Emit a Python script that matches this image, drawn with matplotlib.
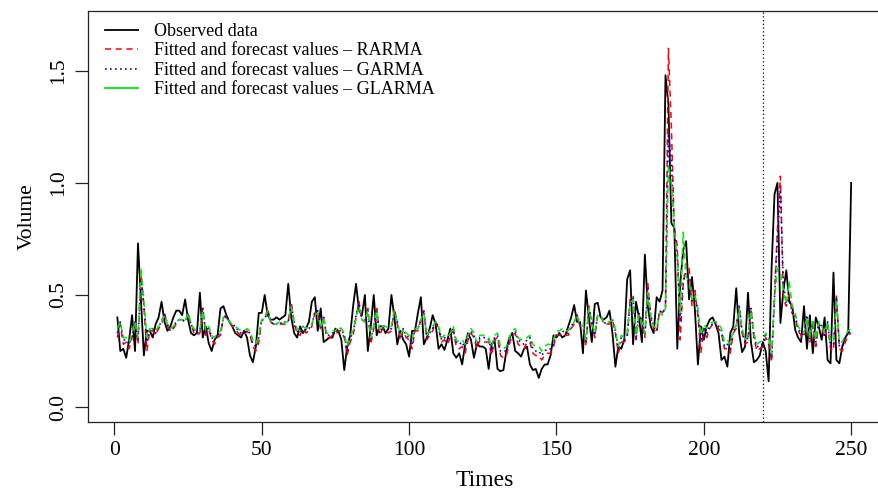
import matplotlib
matplotlib.use("Agg")
import matplotlib.pyplot as plt
from matplotlib.lines import Line2D
import numpy as np

# data (t = 1..250)
observed = [
    0.40, 0.25, 0.26, 0.22, 0.30, 0.41, 0.25, 0.73, 0.48, 0.23,
    0.34, 0.34, 0.31, 0.37, 0.40, 0.47, 0.38, 0.34, 0.36, 0.40,
    0.43, 0.43, 0.41, 0.48, 0.39, 0.33, 0.32, 0.33, 0.51, 0.31,
    0.36, 0.285, 0.25, 0.30, 0.32, 0.44, 0.45, 0.41, 0.38, 0.36,
    0.33, 0.32, 0.31, 0.34, 0.31, 0.23, 0.20, 0.27, 0.42, 0.42,
    0.50, 0.41, 0.39, 0.39, 0.40, 0.39, 0.40, 0.41, 0.55, 0.40,
    0.33, 0.31, 0.36, 0.33, 0.35, 0.38, 0.47, 0.49, 0.34, 0.44,
    0.29, 0.30, 0.31, 0.31, 0.35, 0.34, 0.30, 0.165, 0.27, 0.32,
    0.45, 0.55, 0.43, 0.41, 0.50, 0.25, 0.36, 0.50, 0.32, 0.36,
    0.36, 0.33, 0.35, 0.50, 0.40, 0.28, 0.34, 0.30, 0.28, 0.225,
    0.34, 0.34, 0.42, 0.49, 0.28, 0.31, 0.35, 0.41, 0.37, 0.26,
    0.28, 0.255, 0.30, 0.35, 0.24, 0.22, 0.24, 0.19, 0.28, 0.33,
    0.30, 0.22, 0.28, 0.27, 0.27, 0.26, 0.17, 0.28, 0.30, 0.17,
    0.16, 0.165, 0.25, 0.31, 0.33, 0.25, 0.24, 0.225, 0.26, 0.27,
    0.19, 0.165, 0.17, 0.13, 0.17, 0.19, 0.19, 0.23, 0.32, 0.31,
    0.33, 0.31, 0.32, 0.36, 0.40, 0.455, 0.38, 0.38, 0.24, 0.52,
    0.40, 0.29, 0.46, 0.465, 0.40, 0.39, 0.40, 0.43, 0.33, 0.18,
    0.27, 0.26, 0.30, 0.57, 0.61, 0.28, 0.47, 0.40, 0.29, 0.68,
    0.45, 0.36, 0.33, 0.49, 0.47, 0.52, 1.48, 1.35, 0.82, 0.80,
    0.26, 0.55, 0.70, 0.74, 0.48, 0.58, 0.43, 0.19, 0.36, 0.30,
    0.36, 0.39, 0.40, 0.37, 0.33, 0.21, 0.225, 0.18, 0.33, 0.36,
    0.53, 0.33, 0.245, 0.27, 0.51, 0.29, 0.20, 0.21, 0.23, 0.29,
    0.25, 0.115, 0.62, 0.95, 1.00, 0.375, 0.52, 0.61, 0.47, 0.45,
    0.345, 0.31, 0.29, 0.45, 0.26, 0.41, 0.24, 0.40, 0.36, 0.30,
    0.40, 0.21, 0.195, 0.60, 0.21, 0.195, 0.27, 0.31, 0.33, 1.00,
]

rarma = [
    0.31, 0.37, 0.28, 0.29, 0.26, 0.31, 0.38, 0.28, 0.60, 0.45,
    0.25, 0.34, 0.34, 0.32, 0.35, 0.37, 0.42, 0.36, 0.34, 0.35,
    0.37, 0.39, 0.39, 0.38, 0.42, 0.37, 0.33, 0.32, 0.33, 0.44,
    0.32, 0.35, 0.30, 0.28, 0.31, 0.32, 0.40, 0.40, 0.38, 0.36,
    0.35, 0.33, 0.32, 0.32, 0.34, 0.32, 0.27, 0.25, 0.29, 0.39,
    0.39, 0.44, 0.38, 0.37, 0.37, 0.37, 0.37, 0.37, 0.38, 0.47,
    0.37, 0.33, 0.32, 0.35, 0.33, 0.34, 0.36, 0.42, 0.43, 0.34,
    0.40, 0.31, 0.31, 0.32, 0.32, 0.34, 0.34, 0.31, 0.23, 0.29,
    0.32, 0.40, 0.47, 0.39, 0.38, 0.44, 0.28, 0.35, 0.44, 0.32,
    0.35, 0.35, 0.33, 0.34, 0.44, 0.37, 0.30, 0.34, 0.31, 0.30,
    0.26, 0.34, 0.34, 0.39, 0.43, 0.30, 0.32, 0.34, 0.38, 0.35,
    0.29, 0.30, 0.28, 0.31, 0.34, 0.27, 0.26, 0.27, 0.24, 0.30,
    0.33, 0.31, 0.26, 0.30, 0.29, 0.29, 0.29, 0.23, 0.30, 0.31,
    0.23, 0.22, 0.23, 0.28, 0.32, 0.33, 0.28, 0.27, 0.26, 0.29,
    0.29, 0.24, 0.23, 0.23, 0.21, 0.23, 0.24, 0.24, 0.27, 0.32,
    0.32, 0.33, 0.32, 0.32, 0.35, 0.37, 0.41, 0.36, 0.36, 0.27,
    0.45, 0.37, 0.31, 0.41, 0.41, 0.37, 0.37, 0.37, 0.39, 0.33,
    0.24, 0.29, 0.29, 0.31, 0.48, 0.50, 0.30, 0.42, 0.37, 0.31,
    0.55, 0.40, 0.35, 0.33, 0.43, 0.42, 0.45, 1.60, 1.25, 0.80,
    0.72, 0.30, 0.55, 0.64, 0.62, 0.45, 0.52, 0.41, 0.24, 0.35,
    0.31, 0.35, 0.37, 0.37, 0.35, 0.33, 0.26, 0.26, 0.24, 0.33,
    0.35, 0.45, 0.33, 0.28, 0.29, 0.44, 0.31, 0.25, 0.26, 0.27,
    0.31, 0.28, 0.20, 0.50, 0.80, 1.03, 0.48, 0.45, 0.50, 0.42,
    0.40, 0.34, 0.32, 0.31, 0.40, 0.29, 0.38, 0.27, 0.37, 0.35,
    0.31, 0.37, 0.26, 0.25, 0.50, 0.26, 0.25, 0.29, 0.32, 0.33,
]

garma = [
    0.33, 0.38, 0.30, 0.30, 0.28, 0.32, 0.38, 0.30, 0.56, 0.46,
    0.29, 0.35, 0.35, 0.33, 0.36, 0.38, 0.42, 0.37, 0.34, 0.36,
    0.38, 0.39, 0.39, 0.38, 0.42, 0.37, 0.34, 0.33, 0.34, 0.44,
    0.33, 0.36, 0.31, 0.30, 0.32, 0.33, 0.40, 0.41, 0.38, 0.37,
    0.36, 0.34, 0.33, 0.33, 0.34, 0.33, 0.28, 0.27, 0.31, 0.39,
    0.39, 0.43, 0.38, 0.37, 0.37, 0.38, 0.37, 0.38, 0.38, 0.46,
    0.38, 0.34, 0.33, 0.36, 0.34, 0.35, 0.37, 0.42, 0.43, 0.35,
    0.40, 0.32, 0.32, 0.33, 0.33, 0.35, 0.35, 0.32, 0.25, 0.31,
    0.33, 0.41, 0.46, 0.39, 0.38, 0.43, 0.30, 0.36, 0.43, 0.33,
    0.36, 0.36, 0.34, 0.35, 0.43, 0.38, 0.31, 0.35, 0.32, 0.31,
    0.28, 0.35, 0.35, 0.39, 0.43, 0.31, 0.33, 0.35, 0.38, 0.36,
    0.30, 0.31, 0.30, 0.32, 0.35, 0.29, 0.28, 0.29, 0.26, 0.31,
    0.34, 0.32, 0.28, 0.31, 0.31, 0.31, 0.30, 0.25, 0.31, 0.32,
    0.25, 0.25, 0.25, 0.30, 0.33, 0.34, 0.30, 0.29, 0.28, 0.30,
    0.31, 0.26, 0.25, 0.25, 0.23, 0.25, 0.26, 0.26, 0.28, 0.33,
    0.33, 0.34, 0.33, 0.33, 0.36, 0.38, 0.41, 0.37, 0.37, 0.29,
    0.44, 0.38, 0.32, 0.41, 0.41, 0.38, 0.37, 0.38, 0.39, 0.34,
    0.26, 0.31, 0.30, 0.32, 0.47, 0.49, 0.31, 0.42, 0.38, 0.32,
    0.53, 0.41, 0.36, 0.34, 0.43, 0.42, 0.44, 1.22, 1.10, 0.78,
    0.68, 0.38, 0.56, 0.60, 0.58, 0.47, 0.50, 0.42, 0.29, 0.36,
    0.33, 0.36, 0.37, 0.38, 0.36, 0.34, 0.27, 0.28, 0.26, 0.34,
    0.36, 0.45, 0.34, 0.29, 0.31, 0.44, 0.32, 0.27, 0.27, 0.28,
    0.32, 0.30, 0.22, 0.49, 0.76, 0.97, 0.55, 0.46, 0.49, 0.42,
    0.41, 0.35, 0.33, 0.32, 0.41, 0.30, 0.38, 0.29, 0.38, 0.36,
    0.32, 0.38, 0.27, 0.27, 0.49, 0.27, 0.27, 0.31, 0.33, 0.34,
]

glarma = [
    0.35, 0.38, 0.31, 0.31, 0.29, 0.33, 0.38, 0.31, 0.62, 0.48,
    0.31, 0.35, 0.35, 0.34, 0.36, 0.38, 0.41, 0.37, 0.35, 0.36,
    0.38, 0.39, 0.39, 0.38, 0.42, 0.37, 0.35, 0.34, 0.35, 0.43,
    0.34, 0.36, 0.32, 0.31, 0.33, 0.34, 0.40, 0.40, 0.38, 0.37,
    0.36, 0.35, 0.34, 0.34, 0.35, 0.34, 0.30, 0.28, 0.32, 0.39,
    0.39, 0.43, 0.38, 0.37, 0.37, 0.38, 0.37, 0.38, 0.38, 0.45,
    0.38, 0.35, 0.34, 0.36, 0.35, 0.36, 0.37, 0.41, 0.42, 0.35,
    0.40, 0.33, 0.33, 0.34, 0.34, 0.36, 0.35, 0.33, 0.27, 0.32,
    0.34, 0.40, 0.45, 0.39, 0.38, 0.43, 0.31, 0.36, 0.43, 0.34,
    0.36, 0.36, 0.35, 0.36, 0.43, 0.38, 0.32, 0.35, 0.33, 0.32,
    0.30, 0.35, 0.35, 0.39, 0.42, 0.32, 0.34, 0.36, 0.38, 0.36,
    0.31, 0.32, 0.31, 0.33, 0.36, 0.30, 0.29, 0.30, 0.28, 0.32,
    0.35, 0.33, 0.29, 0.32, 0.32, 0.32, 0.31, 0.27, 0.32, 0.33,
    0.27, 0.26, 0.27, 0.31, 0.34, 0.35, 0.31, 0.30, 0.30, 0.31,
    0.32, 0.28, 0.27, 0.27, 0.25, 0.27, 0.28, 0.28, 0.30, 0.34,
    0.34, 0.35, 0.34, 0.34, 0.36, 0.38, 0.41, 0.37, 0.37, 0.30,
    0.44, 0.38, 0.33, 0.41, 0.41, 0.38, 0.37, 0.38, 0.39, 0.35,
    0.27, 0.32, 0.31, 0.33, 0.46, 0.48, 0.32, 0.41, 0.38, 0.33,
    0.51, 0.40, 0.36, 0.35, 0.42, 0.41, 0.44, 1.08, 1.00, 0.80,
    0.66, 0.42, 0.78, 0.58, 0.56, 0.48, 0.50, 0.44, 0.32, 0.37,
    0.35, 0.37, 0.38, 0.38, 0.37, 0.35, 0.29, 0.30, 0.28, 0.35,
    0.36, 0.44, 0.35, 0.30, 0.32, 0.43, 0.33, 0.28, 0.29, 0.30,
    0.33, 0.31, 0.24, 0.48, 0.62, 0.60, 0.52, 0.46, 0.56, 0.45,
    0.42, 0.36, 0.34, 0.33, 0.40, 0.31, 0.38, 0.30, 0.38, 0.36,
    0.33, 0.38, 0.29, 0.29, 0.48, 0.29, 0.29, 0.32, 0.34, 0.35,
]

times = np.arange(1, len(observed) + 1)
forecast_start = 220
labels = [
    "Observed data",
    "Fitted and forecast values \u2013 RARMA",
    "Fitted and forecast values \u2013 GARMA",
    "Fitted and forecast values \u2013 GLARMA",
]

plt.rcParams["font.family"] = ["Liberation Serif", "DejaVu Serif"]

W, H = 879, 491
fig = plt.figure(figsize=(W / 100, H / 100), dpi=100)
left, right, top, bottom = 88, 880.5, 10.7, 422.3
ax = fig.add_axes([left / W, 1 - bottom / H, (right - left) / W, (bottom - top) / H])

ax.plot(times, observed, color="black", lw=1.3)
ax.plot(times, rarma, color="#ff0000", lw=1.1, dashes=(4, 3))
ax.plot(times, garma, color="#0000ff", lw=1.2, dashes=(1, 2))
ax.plot(times, glarma, color="#00ee00", lw=1.1, dashes=(4, 3))
ax.axvline(forecast_start, color="black", lw=0.9, ls=(0, (1, 2)))

ax.set_xlim(-8.96, 259.96)
ax.set_ylim(-0.068, 1.768)
ax.set_xticks([0, 50, 100, 150, 200, 250])
ax.set_yticks([0.0, 0.5, 1.0, 1.5])
ax.set_yticklabels(["0.0", "0.5", "1.0", "1.5"], rotation=90, va="center")
ax.tick_params(axis="both", labelsize=15.5, length=9.5, width=0.9, color="#222222")
ax.tick_params(axis="x", pad=4)
ax.tick_params(axis="y", pad=4.5)
for sp in ax.spines.values():
    sp.set_linewidth(0.9)
    sp.set_color("#222222")

ax.set_xlabel("Times", fontsize=17, labelpad=7)
ax.set_ylabel("Volume", fontsize=15.5, labelpad=9)

handles = [
    Line2D([], [], color="black", lw=1.3),
    Line2D([], [], color="#ff0000", lw=1.1, dashes=(4, 3)),
    Line2D([], [], color="#0000ff", lw=1.2, dashes=(1, 2)),
    Line2D([], [], color="#00ee00", lw=1.3),
]
ax.legend(handles, labels, loc="upper left", bbox_to_anchor=(0.0126, 0.988),
          borderaxespad=0, frameon=False, fontsize=13, handlelength=1.8,
          handletextpad=0.9, labelspacing=0.14)

fig.savefig("out.png", dpi=100)
